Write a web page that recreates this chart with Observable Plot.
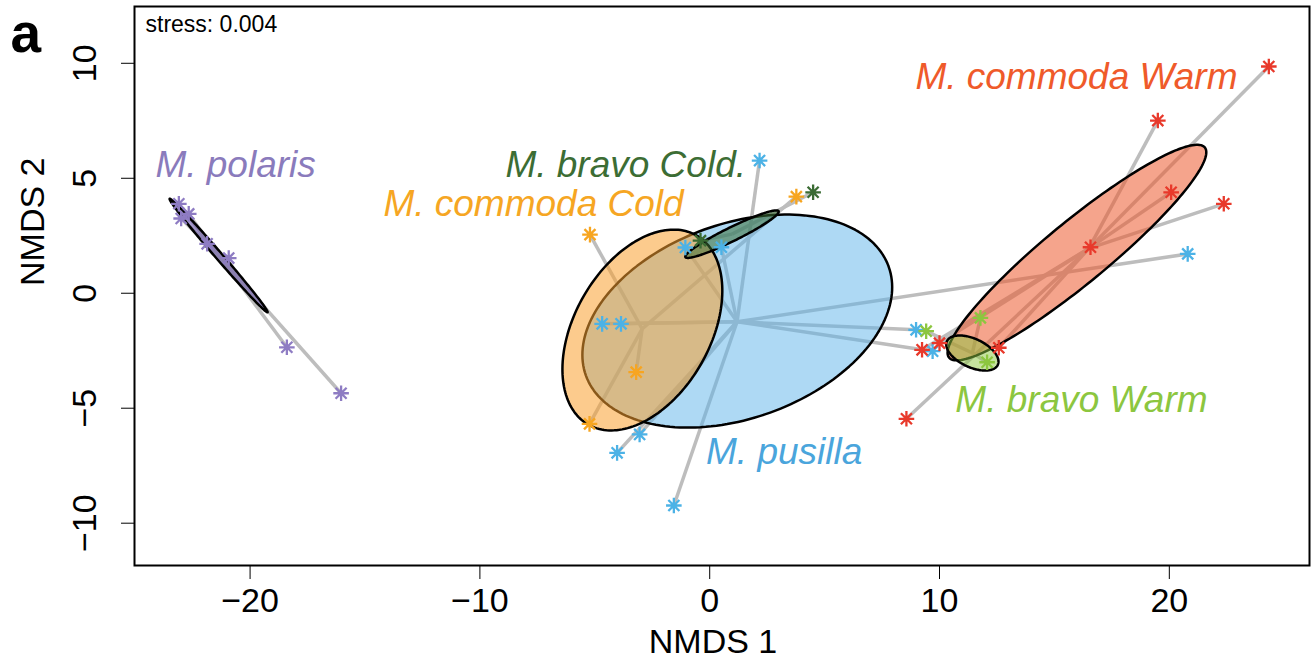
<!DOCTYPE html>
<html>
<head>
<meta charset="utf-8">
<script src="https://cdn.jsdelivr.net/npm/d3@7"></script>
<script src="https://cdn.jsdelivr.net/npm/@observablehq/plot@0.6"></script>
<style>
  html, body { margin: 0; padding: 0; background: #fff; overflow: hidden; }
</style>
</head>
<body>
<div id="chart"></div>
<script>
// NMDS ordination: samples per group, spiders to group centroids, dispersion ellipses.
const xTicks = [-20, -10, 0, 10, 20];
const yTicks = [-10, -5, 0, 5, 10];

const groupNames = ["M. polaris", "M. pusilla", "M. commoda Cold", "M. bravo Cold.", "M. commoda Warm", "M. bravo Warm"];

// sample scores (NMDS 1, NMDS 2) per group
const polarisX = [-23.1, -22.67, -23.0, -21.87, -20.93, -18.4, -16.04];
const polarisY = [3.89, 3.45, 3.25, 2.15, 1.53, -2.35, -4.35];
const pusillaX = [2.17, -1.06, 0.51, -4.68, -3.86, -3.05, -4.03, -1.56, 8.98, 9.7, 20.8];
const pusillaY = [5.77, 1.99, 2.0, -1.33, -1.33, -6.14, -6.94, -9.23, -1.59, -2.52, 1.71];
const commodaColdX = [-5.21, -3.2, -5.23, 3.77];
const commodaColdY = [2.55, -3.43, -5.68, 4.2];
const bravoColdX = [4.5, -0.4];
const bravoColdY = [4.39, 2.29];
const commodaWarmX = [24.33, 19.5, 20.08, 22.37, 16.57, 8.56, 9.24, 10.0, 12.58];
const commodaWarmY = [9.86, 7.51, 4.39, 3.89, 2.0, -5.46, -2.46, -2.17, -2.37];
const bravoWarmX = [11.78, 9.42, 12.07];
const bravoWarmY = [-1.07, -1.65, -3.0];

// group centroids (spider hubs)
const hubX = [-21.37, 1.19, -2.94, 0.97, 16.5, 11.43];
const hubY = [1.64, -1.24, -1.55, 2.57, 1.95, -2.6];

// dispersion ellipses: centre, semi-axes, orientation (degrees)
const ellipseCX = [-21.37, 1.2, -2.93, 0.97, 15.98, 11.43];
const ellipseCY = [1.64, -1.21, -1.6, 2.57, 1.77, -2.6];
const ellipseA = [3.26, 7.0, 4.74, 2.26, 7.2, 1.22];
const ellipseB = [0.15, 4.23, 2.95, 0.3, 1.35, 0.62];
const ellipseAngle = [-49.2, 19.8, 60.2, 26.2, 39.4, -25];
const ellipseFill = ["#6a58a8", "#5db4ea", "#f9a030", "#3b6e34", "#ec5a2e", "#8cc63f"];
const ellipseOpacity = [0.6, 0.5, 0.55, 0.55, 0.55, 0.5];
const ellipseOrder = [0, 1, 2, 4, 5, 3];

const pointColors = ["#8e7cc3", "#4cb2e6", "#f7a520", "#3a6b33", "#e8392b", "#8cc63f"];
const labelColors = ["#8a7bbc", "#4aa5dc", "#f6a623", "#3c6d34", "#ef5a2a", "#8cc63f"];
const labelX = [-24.12, -0.16, -14.2, -8.89, 8.95, 10.69];
const labelY = [5.55, -6.91, 3.87, 5.57, 9.4, -4.67];

const groupPoints = [
  [polarisX, polarisY], [pusillaX, pusillaY], [commodaColdX, commodaColdY],
  [bravoColdX, bravoColdY], [commodaWarmX, commodaWarmY], [bravoWarmX, bravoWarmY]
];

const samples = groupNames.flatMap((g, i) =>
  groupPoints[i][0].map((x, j) => ({
    group: g, x, y: groupPoints[i][1][j], hx: hubX[i], hy: hubY[i], color: pointColors[i]
  }))
);

function ellipseOutline(i) {
  const t0 = ellipseAngle[i] * Math.PI / 180;
  return d3.range(0, 180).map(k => {
    const t = k / 180 * 2 * Math.PI;
    const u = ellipseA[i] * Math.cos(t), v = ellipseB[i] * Math.sin(t);
    return {x: ellipseCX[i] + u * Math.cos(t0) - v * Math.sin(t0),
            y: ellipseCY[i] + u * Math.sin(t0) + v * Math.cos(t0)};
  });
}

// R-style asterisk (pch 8): plus and cross of equal arm length
const asterisk = {
  draw(ctx, size) {
    const r = Math.sqrt(size / Math.PI), d = r * Math.SQRT1_2;
    ctx.moveTo(-r, 0); ctx.lineTo(r, 0);
    ctx.moveTo(0, -r); ctx.lineTo(0, r);
    ctx.moveTo(-d, -d); ctx.lineTo(d, d);
    ctx.moveTo(-d, d); ctx.lineTo(d, -d);
  }
};

const labels = groupNames.map((g, i) => ({text: g, x: labelX[i], y: labelY[i], color: labelColors[i]}));
const fmt = d => (d < 0 ? "\u2212" + Math.abs(d) : String(d));

const chart = Plot.plot({
  width: 1312,
  height: 662,
  marginLeft: 134,
  marginRight: 3,
  marginTop: 6,
  marginBottom: 97,
  style: {fontFamily: "'Liberation Sans', Arial, sans-serif", fontSize: "34px", color: "black", background: "white"},
  color: {type: "identity"},
  x: {domain: [-25.03, 26.1], ticks: xTicks, tickSize: 14, tickPadding: 8, tickFormat: fmt, label: null},
  y: {domain: [-11.84, 12.47], ticks: yTicks, tickSize: 13, tickPadding: 26, tickFormat: fmt, tickRotate: -90, label: null},
  marks: [
    Plot.link(samples, {x1: "hx", y1: "hy", x2: "x", y2: "y", stroke: "#bdbdbd", strokeWidth: 3.5}),
    ...ellipseOrder.map(i => Plot.line(ellipseOutline(i), {
      x: "x", y: "y", curve: "linear-closed",
      fill: ellipseFill[i], fillOpacity: ellipseOpacity[i], stroke: "black", strokeWidth: 2.5
    })),
    Plot.dot(samples, {x: "x", y: "y", symbol: asterisk, r: 7.8, stroke: "color", strokeWidth: 2.3, fill: "none"}),
    Plot.text(labels, {x: "x", y: "y", text: "text", fill: "color", textAnchor: "start", lineAnchor: "middle", fontSize: 37, fontStyle: "italic"}),
    Plot.text(["stress: 0.004"], {text: d => d, frameAnchor: "top-left", dx: 11, dy: 18, textAnchor: "start", lineAnchor: "middle", fontSize: 23}),
    Plot.text(["a"], {text: d => d, frameAnchor: "top-left", dx: -124, dy: 45, textAnchor: "start", lineAnchor: "bottom", fontSize: 55, fontWeight: "bold"}),
    Plot.text(["NMDS 1"], {text: d => d, frameAnchor: "bottom", dx: -9, dy: 77, lineAnchor: "middle", fontSize: 34}),
    Plot.text(["NMDS 2"], {text: d => d, frameAnchor: "left", dx: -101, rotate: -90, lineAnchor: "middle", fontSize: 34}),
    Plot.frame({stroke: "black", strokeWidth: 2})
  ]
});

document.getElementById("chart").appendChild(chart);
</script>
</body>
</html>
